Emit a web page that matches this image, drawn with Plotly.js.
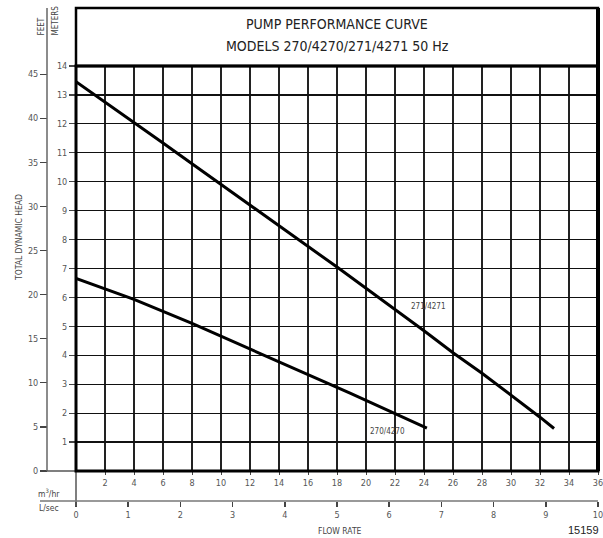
<!DOCTYPE html>
<html><head><meta charset="utf-8">
<script src="https://cdn.plot.ly/plotly-3.0.1.min.js"></script>
<style>html,body{margin:0;padding:0;background:#fff}#chart{width:603px;height:538px}</style>
</head><body><div id="chart"></div>
<script>
// ---- data ----
const flow271 = [0, 2, 4, 6, 8, 10, 18, 24, 26, 28, 30, 32, 32.97];
const head271 = [13.46, 12.76, 12.05, 11.34, 10.62, 9.91, 7.05, 4.85, 4.09, 3.38, 2.63, 1.86, 1.47];
const flow270 = [0, 4, 8, 12, 18.9, 24.2];
const head270 = [6.66, 5.93, 5.10, 4.21, 2.69, 1.48];
const seriesNames = ['271/4271', '270/4270'];
const flowTicks = [2, 4, 6, 8, 10, 12, 14, 16, 18, 20, 22, 24, 26, 28, 30, 32, 34, 36];
const lsecTicks = [0, 1, 2, 3, 4, 5, 6, 7, 8, 9, 10];
const meterTicks = [1, 2, 3, 4, 5, 6, 7, 8, 9, 10, 11, 12, 13, 14];
const feetTicks = [0, 5, 10, 15, 20, 25, 30, 35, 40, 45];
const titleLines = ['PUMP PERFORMANCE CURVE', 'MODELS 270/4270/271/4271 50 Hz'];

const W = 603, H = 538;
const X = px => px / W;
const Y = py => 1 - py / H;
const FONT = "'Liberation Sans Narrow', 'DejaVu Sans Condensed', 'Arial Narrow', sans-serif";
const tickFont = {family: FONT, size: 9, color: '#555'};

const traces = [
  {x: flow271, y: head271, name: seriesNames[0], mode: 'lines', line: {color: '#000', width: 3}, xaxis: 'x', yaxis: 'y', hoverinfo: 'skip'},
  {x: flow270, y: head270, name: seriesNames[1], mode: 'lines', line: {color: '#000', width: 3}, xaxis: 'x', yaxis: 'y', hoverinfo: 'skip'},
  {x: [0, 10], y: [0, 0], mode: 'none', xaxis: 'x2', yaxis: 'y', hoverinfo: 'skip', showlegend: false},
  {x: [0, 0], y: [0, 45], mode: 'none', xaxis: 'x', yaxis: 'y2', hoverinfo: 'skip', showlegend: false}
];

const line = (x0, y0, x1, y1, color, width) => ({type: 'line', xref: 'paper', yref: 'paper',
  x0: X(x0), y0: Y(y0), x1: X(x1), y1: Y(y1), line: {color: color, width: width}});

const ann = (text, px, py, size, extra) => Object.assign({text: text, xref: 'paper', yref: 'paper',
  x: X(px), y: Y(py), showarrow: false, xanchor: 'center', yanchor: 'middle',
  font: {family: FONT, size: size, color: '#444'}}, extra || {});

const layout = {
  width: W, height: H,
  margin: {l: 0, r: 0, t: 0, b: 0},
  paper_bgcolor: '#fff', plot_bgcolor: '#fff',
  showlegend: false,
  xaxis: {domain: [X(76), X(598)], range: [0, 36], tickvals: flowTicks, ticktext: flowTicks.map(String),
    ticks: 'outside', ticklen: 3, tickcolor: '#444', tickfont: tickFont, ticklabeloverflow: 'allow',
    showgrid: true, gridcolor: '#222', gridwidth: 1.2, zeroline: false, showline: false, anchor: 'y', fixedrange: true},
  yaxis: {domain: [Y(471), Y(66)], range: [0, 14], tickvals: meterTicks, ticktext: meterTicks.map(String),
    ticks: 'outside', ticklen: 6, tickcolor: '#444', tickwidth: 1.2, tickfont: tickFont, ticklabeloverflow: 'allow',
    showgrid: true, gridcolor: '#111', gridwidth: 1.2, zeroline: false, showline: false, anchor: 'x', fixedrange: true},
  yaxis2: {overlaying: 'y', anchor: 'free', position: X(47), side: 'left', range: [0, 14 * 3.28084],
    tickvals: feetTicks, ticktext: feetTicks.map(String), ticks: 'outside', ticklen: 7, tickcolor: '#444', tickwidth: 1.2,
    tickfont: tickFont, ticklabeloverflow: 'allow', showgrid: false, zeroline: false, showline: false, fixedrange: true},
  xaxis2: {overlaying: 'x', anchor: 'free', position: 1 - 501 / H, side: 'bottom', range: [0, 10],
    tickvals: lsecTicks, ticktext: lsecTicks.map(String), ticks: 'outside', ticklen: 5, tickcolor: '#444', tickwidth: 1.5,
    tickfont: tickFont, ticklabeloverflow: 'allow', showgrid: false, zeroline: false, showline: false, fixedrange: true},
  shapes: [
    line(47, 8, 47, 471, '#666', 1.5),
    line(47, 471, 76, 471, '#555', 1.5),
    line(76, 471, 76, 506, '#555', 1.5),
    line(40, 501, 598, 501, '#777', 1.5),
    {type: 'rect', xref: 'paper', yref: 'paper', x0: X(76), x1: X(598), y0: Y(66), y1: Y(8), line: {color: '#000', width: 2.5}},
    {type: 'rect', xref: 'paper', yref: 'paper', x0: X(76), x1: X(598), y0: Y(471), y1: Y(66), line: {color: '#000', width: 3}},
    line(598, 8, 598, 471, '#000', 4)
  ],
  annotations: [
    ann(titleLines[0], 337, 24, 14, {font: {family: FONT, size: 14, color: '#222'}}),
    ann(titleLines[1], 337, 46, 14, {font: {family: FONT, size: 14, color: '#222'}}),
    ann('FEET', 41, 26.5, 8, {textangle: -90}),
    ann('METERS', 55.5, 21, 8, {textangle: -90}),
    ann('TOTAL DYNAMIC HEAD', 19, 238, 8.5, {textangle: -90}),
    ann('m<sup>3</sup>/hr', 49, 493, 8.5),
    ann('L/sec', 49, 508, 8.5),
    ann('FLOW RATE', 340, 531, 8.5),
    ann('15159', 566, 530, 11, {xanchor: 'left', font: {family: "'Liberation Sans', Arial, sans-serif", size: 11, color: '#222'}}),
    {text: seriesNames[0], x: 24.3, y: 5.67, xref: 'x', yref: 'y', showarrow: false, xanchor: 'center', yanchor: 'middle', font: {family: FONT, size: 8, color: '#444'}},
    {text: seriesNames[1], x: 21.45, y: 1.35, xref: 'x', yref: 'y', showarrow: false, xanchor: 'center', yanchor: 'middle', font: {family: FONT, size: 8, color: '#444'}}
  ]
};

Plotly.newPlot('chart', traces, layout, {staticPlot: true, displayModeBar: false});
</script>
</body></html>
